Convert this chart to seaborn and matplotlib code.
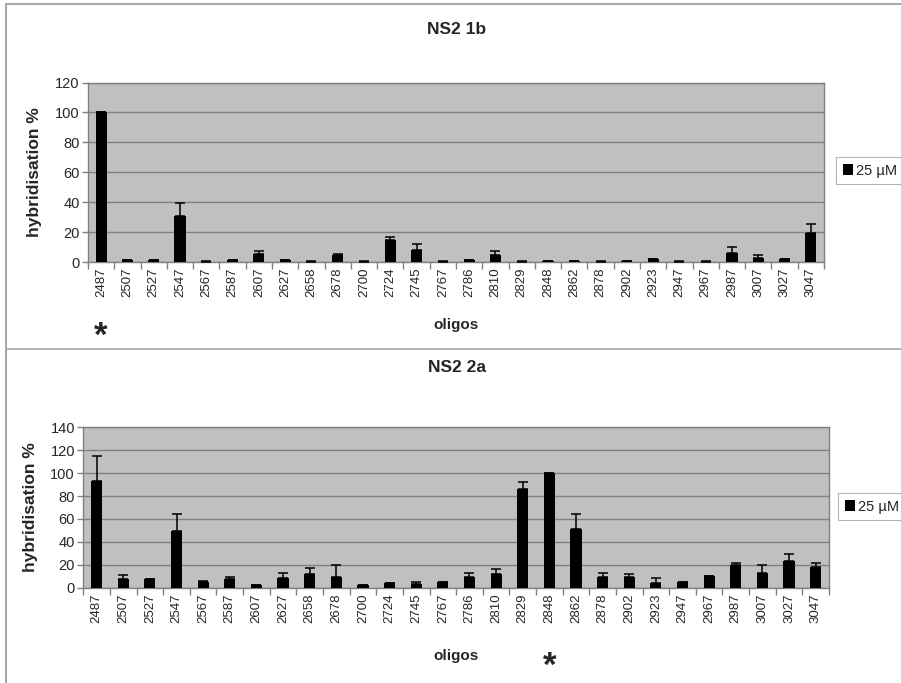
import matplotlib
matplotlib.use("Agg")
import matplotlib.pyplot as plt
import matplotlib.transforms as mtransforms
from matplotlib.lines import Line2D
from matplotlib.ticker import FixedLocator, MultipleLocator, NullFormatter
import seaborn as sns
import numpy as np
import pandas as pd

oligos = ["2487", "2507", "2527", "2547", "2567", "2587", "2607", "2627", "2658", "2678",
          "2700", "2724", "2745", "2767", "2786", "2810", "2829", "2848", "2862", "2878",
          "2902", "2923", "2947", "2967", "2987", "3007", "3027", "3047"]

ns2_1b_values = [100, 1.5, 1.5, 31, 0.5, 1.5, 5.7, 1.5, 0.5, 5.2,
                 0.5, 15, 8.3, 0.5, 1.5, 5, 0.5, 1, 1, 0.5,
                 1, 2, 0.5, 0.5, 6.4, 2.9, 2.5, 19.4]
ns2_1b_errors = [0, 0, 0, 8.8, 0.5, 0, 1.6, 0, 0.5, 0.3,
                 0.5, 1.8, 3.8, 0.5, 0, 2.3, 0.3, 0, 0, 0.3,
                 0, 0.3, 0.3, 0.3, 3.8, 1.8, 0, 6.1]

ns2_2a_values = [93.4, 7.3, 7.8, 49.8, 4.7, 7.3, 2.3, 8.2, 11.7, 9.6,
                 2.6, 3.8, 3.2, 4.7, 9.6, 11.9, 86.5, 100, 51, 9.6,
                 9.3, 3.8, 4.7, 10.2, 20.1, 13, 23.6, 17.8]
ns2_2a_errors = [21.6, 3.5, 0, 14.6, 1.5, 1.8, 0, 4.8, 5.8, 10.2,
                 0, 0, 1.7, 0, 3.4, 4.4, 5.5, 0, 13.4, 3.4,
                 2.3, 4.4, 0, 0, 1.7, 7, 5.5, 4]

series_label = "25 µM"

sns.set_style("ticks")
plt.rcParams["font.family"] = ["Liberation Sans", "DejaVu Sans"]

W, H = 901, 683
fig = plt.figure(figsize=(W / 100, H / 100), dpi=100)
fig.patch.set_facecolor("white")


def rect(left, top, right, bottom):
    return [left / W, 1 - bottom / H, (right - left) / W, (bottom - top) / H]


ax1 = fig.add_axes(rect(88, 82.5, 824, 262.3))
ax2 = fig.add_axes(rect(83.3, 427.3, 829, 587.7))

GRID = "#808080"


def draw_panel(ax, values, errors, ymax, ystep, xlabel_y, ylabel_x, legend_xy, star_idx, star_y):
    df = pd.DataFrame({"oligo": oligos, "value": values})
    sns.barplot(data=df, x="oligo", y="value", order=oligos, color="black",
                width=0.42, saturation=1, ax=ax, label=series_label, zorder=3,
                linewidth=0, edgecolor="black")
    xs = [p.get_x() + p.get_width() / 2 for p in ax.patches]
    ax.errorbar(xs, values, yerr=[np.zeros(len(errors)), errors], fmt="none",
                ecolor="black", elinewidth=1.1, capsize=3.5, capthick=1.1, zorder=4)
    ax.set_facecolor("#c0c0c0")
    ax.set_ylim(0, ymax)
    ax.set_xlim(-0.5, len(oligos) - 0.5)
    ax.yaxis.set_major_locator(MultipleLocator(ystep))
    ax.yaxis.grid(True, color=GRID, linewidth=1.0)
    ax.set_axisbelow(True)
    for s in ax.spines.values():
        s.set_color(GRID)
        s.set_linewidth(1.0)
    ax.tick_params(axis="y", labelsize=10.5, length=4, color=GRID, width=1, pad=2)
    ax.tick_params(axis="x", which="major", labelsize=9.5, length=0, pad=4, labelrotation=90)
    ax.xaxis.set_minor_locator(FixedLocator(np.arange(-0.5, len(oligos), 1.0)))
    ax.xaxis.set_minor_formatter(NullFormatter())
    ax.tick_params(axis="x", which="minor", length=5, color=GRID, width=1)
    ax.set_xlabel("oligos", fontsize=11, fontweight="bold")
    ax.xaxis.set_label_coords(0.5, xlabel_y)
    ax.set_ylabel("hybridisation %", fontsize=12.5, fontweight="bold")
    ax.yaxis.set_label_coords(ylabel_x, 0.5)
    trans = mtransforms.blended_transform_factory(ax.transData, ax.transAxes)
    ax.text(xs[star_idx], star_y, "*", transform=trans, ha="center", va="center",
            fontsize=25, fontweight="bold")
    leg = ax.legend(loc="upper left", bbox_to_anchor=(legend_xy[0] / W, 1 - legend_xy[1] / H),
                    bbox_transform=fig.transFigure, fontsize=10.5, frameon=True,
                    fancybox=False, edgecolor="#a0a0a0", handlelength=0.7, handleheight=0.7,
                    handletextpad=0.25, borderpad=0.45, borderaxespad=0)
    leg.get_frame().set_linewidth(0.8)


draw_panel(ax1, ns2_1b_values, ns2_1b_errors, 120, 20, -0.31, -0.0625, (836, 157), 0, -0.41)
draw_panel(ax2, ns2_2a_values, ns2_2a_errors, 140, 20, -0.382, -0.0607, (838, 493), 17, -0.49)

fig.text(457 / W, 1 - 30 / H, "NS2 1b", ha="center", va="center", fontsize=12.5, fontweight="bold")
fig.text(457 / W, 1 - 368 / H, "NS2 2a", ha="center", va="center", fontsize=12.5, fontweight="bold")

frame_color = "#a8a8a8"
fig.add_artist(Line2D([6 / W, 1], [1 - 4 / H, 1 - 4 / H], transform=fig.transFigure, color=frame_color, lw=1.5))
fig.add_artist(Line2D([6 / W, 6 / W], [0, 1 - 4 / H], transform=fig.transFigure, color=frame_color, lw=1.5))
fig.add_artist(Line2D([6 / W, 1], [1 - 349 / H, 1 - 349 / H], transform=fig.transFigure, color=frame_color, lw=1.2))

fig.savefig("out.png", dpi=100)
